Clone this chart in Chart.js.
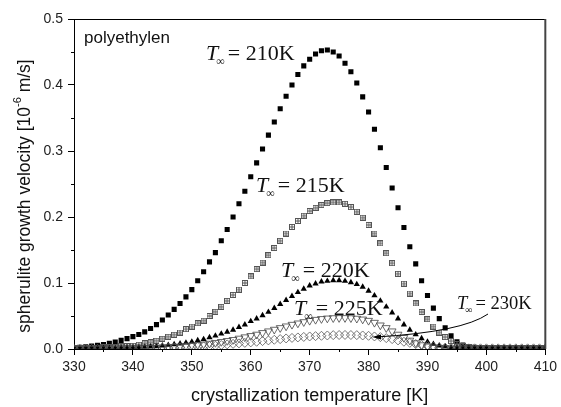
<!DOCTYPE html>
<html>
<head>
<meta charset="utf-8">
<script src="https://cdn.jsdelivr.net/npm/chart.js@4.4.1/dist/chart.umd.min.js"></script>
<style>
  html, body { margin: 0; padding: 0; background: #fff; }
  #wrap { width: 561px; height: 407px; }
</style>
</head>
<body>
<div id="wrap"><canvas id="growthChart" width="561" height="407"></canvas></div>
<script>
// crystallization temperature [K]
const temps = [330, 331, 332, 333, 334, 335, 336, 337, 338, 339,
  340, 341, 342, 343, 344, 345, 346, 347, 348, 349,
  350, 351, 352, 353, 354, 355, 356, 357, 358, 359,
  360, 361, 362, 363, 364, 365, 366, 367, 368, 369,
  370, 371, 372, 373, 374, 375, 376, 377, 378, 379,
  380, 381, 382, 383, 384, 385, 386, 387, 388, 389,
  390, 391, 392, 393, 394, 395, 396, 397, 398, 399,
  400, 401, 402, 403, 404, 405, 406, 407, 408, 409, 410];

// spherulite growth velocity [1e-6 m/s], one list per T_inf
const v210 = [0.002, 0.0025, 0.0035, 0.0045, 0.0056, 0.0068, 0.0086, 0.0106, 0.013, 0.0157,
  0.0187, 0.022, 0.026, 0.031, 0.037, 0.044, 0.0515, 0.060, 0.069, 0.079,
  0.090, 0.1035, 0.117, 0.132, 0.146, 0.164, 0.181, 0.200, 0.220, 0.239,
  0.261, 0.282, 0.303, 0.324, 0.344, 0.364, 0.383, 0.400, 0.416, 0.429,
  0.439, 0.447, 0.452, 0.453, 0.450, 0.444, 0.433, 0.420, 0.403, 0.382,
  0.359, 0.333, 0.305, 0.275, 0.244, 0.214, 0.184, 0.155, 0.129, 0.1035,
  0.081, 0.062, 0.046, 0.032, 0.020, 0.011, 0.006, 0.0035, 0.0025, 0.002,
  0.0015, 0.001, 0.001, 0.001, 0.001, 0.001, 0.001, 0.001, 0.001, 0.001, 0.001];

const v215 = [0.001, 0.0012, 0.0014, 0.0017, 0.002, 0.0024, 0.0028, 0.0033, 0.0038, 0.0044,
  0.005, 0.0066, 0.0086, 0.010, 0.0126, 0.0157, 0.0187, 0.0217, 0.025, 0.030,
  0.034, 0.039, 0.043, 0.050, 0.0565, 0.064, 0.073, 0.082, 0.090, 0.100,
  0.110, 0.121, 0.131, 0.142, 0.153, 0.164, 0.175, 0.185, 0.194, 0.202,
  0.209, 0.214, 0.218, 0.221, 0.222, 0.222, 0.220, 0.215, 0.208, 0.199,
  0.188, 0.175, 0.160, 0.145, 0.130, 0.114, 0.099, 0.084, 0.069, 0.056,
  0.045, 0.034, 0.025, 0.018, 0.012, 0.0076, 0.0045, 0.003, 0.002, 0.0015,
  0.001, 0.001, 0.001, 0.001, 0.001, 0.001, 0.001, 0.001, 0.001, 0.001, 0.001];

const v220 = [0.0005, 0.0006, 0.0007, 0.0008, 0.0009, 0.001, 0.0012, 0.0014, 0.0016, 0.0018,
  0.002, 0.0025, 0.003, 0.0035, 0.004, 0.005, 0.006, 0.007, 0.008, 0.0095,
  0.011, 0.013, 0.0147, 0.0175, 0.020, 0.023, 0.026, 0.029, 0.033, 0.037,
  0.042, 0.046, 0.051, 0.056, 0.062, 0.068, 0.074, 0.080, 0.086, 0.091,
  0.096, 0.099, 0.102, 0.103, 0.104, 0.104, 0.103, 0.101, 0.098, 0.094,
  0.088, 0.081, 0.073, 0.064, 0.055, 0.046, 0.037, 0.029, 0.022, 0.016,
  0.011, 0.0075, 0.005, 0.0035, 0.0025, 0.002, 0.0015, 0.001, 0.001, 0.001,
  0.001, 0.001, 0.001, 0.001, 0.001, 0.001, 0.001, 0.001, 0.001, 0.001, 0.001];

const v225 = [0.0003, 0.0004, 0.0005, 0.0006, 0.0007, 0.0008, 0.0009, 0.001, 0.001, 0.0011,
  0.0012, 0.0014, 0.0016, 0.0019, 0.0022, 0.0026, 0.003, 0.0035, 0.004, 0.0047,
  0.0055, 0.0063, 0.0072, 0.0083, 0.0095, 0.011, 0.0125, 0.014, 0.016, 0.018,
  0.020, 0.022, 0.0245, 0.027, 0.0295, 0.032, 0.0345, 0.037, 0.039, 0.041,
  0.043, 0.0445, 0.0457, 0.0465, 0.047, 0.0472, 0.0472, 0.047, 0.0462, 0.045,
  0.043, 0.040, 0.036, 0.032, 0.027, 0.022, 0.017, 0.013, 0.009, 0.006,
  0.004, 0.0028, 0.002, 0.0015, 0.001, 0.001, 0.001, 0.001, 0.001, 0.001,
  0.001, 0.001, 0.001, 0.001, 0.001, 0.001, 0.001, 0.001, 0.001, 0.001, 0.001];

const v230 = [0.0002, 0.0002, 0.0003, 0.0003, 0.0004, 0.0005, 0.0006, 0.0007, 0.0008, 0.0009,
  0.001, 0.0011, 0.0012, 0.0014, 0.0016, 0.0018, 0.002, 0.0022, 0.0025, 0.0027,
  0.003, 0.0035, 0.004, 0.0045, 0.005, 0.006, 0.007, 0.0078, 0.0085, 0.0093,
  0.010, 0.011, 0.012, 0.013, 0.014, 0.015, 0.016, 0.0168, 0.0175, 0.0183,
  0.019, 0.0195, 0.020, 0.0205, 0.021, 0.0212, 0.0213, 0.0212, 0.021, 0.0205,
  0.020, 0.019, 0.018, 0.0165, 0.015, 0.013, 0.011, 0.0093, 0.0075, 0.006,
  0.0045, 0.0035, 0.0025, 0.002, 0.0015, 0.0012, 0.001, 0.001, 0.001, 0.001,
  0.001, 0.001, 0.001, 0.001, 0.001, 0.001, 0.001, 0.001, 0.001, 0.001, 0.001];

const yTicks = [0.0, 0.1, 0.2, 0.3, 0.4, 0.5];
const xTicks = [330, 340, 350, 360, 370, 380, 390, 400, 410];

function pairs(vals) {
  return temps.map((t, i) => ({ x: t, y: vals[i] }));
}

// little square with a plus inside, for the 215 K points
function boxPlus() {
  const c = document.createElement('canvas');
  c.width = 6; c.height = 6;
  const g = c.getContext('2d');
  g.strokeStyle = '#555';
  g.lineWidth = 1;
  g.strokeRect(0.5, 0.5, 5, 5);
  g.beginPath();
  g.moveTo(3, 0.5); g.lineTo(3, 5.5);
  g.moveTo(0.5, 3); g.lineTo(5.5, 3);
  g.stroke();
  return c;
}

const sans = '"Liberation Sans", Arial, sans-serif';
const serif = '"Liberation Serif", "Times New Roman", serif';

// T∞ = ...K labels, minor ticks, frame and the arrow
const extras = {
  id: 'extras',
  afterDraw(chart) {
    const ctx = chart.ctx;
    const a = chart.chartArea;
    const xs = chart.scales.x, ys = chart.scales.y;
    ctx.save();

    // frame
    ctx.strokeStyle = '#000';
    ctx.lineWidth = 1;
    ctx.beginPath();
    ctx.moveTo(a.left, a.top + 0.5); ctx.lineTo(a.right, a.top + 0.5);
    ctx.stroke();
    ctx.strokeStyle = '#444';
    ctx.lineWidth = 2;
    ctx.beginPath();
    ctx.moveTo(a.right, a.top); ctx.lineTo(a.right, a.bottom);
    ctx.stroke();

    // minor ticks
    ctx.strokeStyle = '#000';
    ctx.lineWidth = 1;
    ctx.beginPath();
    for (let t = 335; t < 410; t += 10) {
      const px = Math.round(xs.getPixelForValue(t)) + 0.5;
      ctx.moveTo(px, a.bottom); ctx.lineTo(px, a.bottom + 3);
    }
    for (let v = 0.05; v < 0.5; v += 0.1) {
      const py = Math.round(ys.getPixelForValue(v)) + 0.5;
      ctx.moveTo(a.left, py); ctx.lineTo(a.left - 3, py);
    }
    ctx.stroke();

    // y title with superscript
    const t1 = 'spherulite growth velocity [10', sup = '-6', t2 = ' m/s]';
    ctx.fillStyle = '#111';
    ctx.translate(25, 196);
    ctx.rotate(-Math.PI / 2);
    ctx.font = '17.5px ' + sans;
    const w1 = ctx.measureText(t1).width, w3 = ctx.measureText(t2).width;
    ctx.font = '11px ' + sans;
    const w2 = ctx.measureText(sup).width;
    let x0 = -(w1 + w2 + w3) / 2;
    ctx.textBaseline = 'middle';
    ctx.font = '17.5px ' + sans;
    ctx.fillText(t1, x0, 0);
    ctx.font = '11px ' + sans;
    ctx.fillText(sup, x0 + w1, -7);
    ctx.font = '17.5px ' + sans;
    ctx.fillText(t2, x0 + w1 + w2, 0);
    ctx.setTransform(1, 0, 0, 1, 0, 0);

    // panel label
    ctx.textBaseline = 'alphabetic';
    ctx.font = '17px ' + sans;
    ctx.fillText('polyethylen', 84, 43);

    // T∞ labels
    function tLabel(x, y, txt, size) {
      ctx.font = 'italic ' + size + 'px ' + serif;
      ctx.fillText('T', x, y);
      let wx = x + ctx.measureText('T').width;
      ctx.font = Math.round(size * 0.55) + 'px ' + serif;
      ctx.fillText('\u221e', wx - 2, y + size * 0.22);
      wx += ctx.measureText('\u221e').width + 1;
      ctx.font = size + 'px ' + serif;
      ctx.fillText('= ' + txt, wx, y);
    }
    tLabel(206, 60, '210K', 22);
    tLabel(256, 192, '215K', 22);
    tLabel(281, 277, '220K', 22);
    tLabel(294, 315, '225K', 22);
    tLabel(457, 309, '230K', 18.5);

    // arrow to the 230 K points
    ctx.strokeStyle = '#000';
    ctx.lineWidth = 1;
    ctx.beginPath();
    ctx.moveTo(488, 314);
    ctx.quadraticCurveTo(462, 332, 376, 337);
    ctx.stroke();
    ctx.fillStyle = '#000';
    ctx.beginPath();
    ctx.moveTo(372, 337);
    ctx.lineTo(381, 334.5);
    ctx.lineTo(381, 339.5);
    ctx.closePath();
    ctx.fill();

    ctx.restore();
  }
};

const tickFont = { family: sans, size: 14 };

new Chart(document.getElementById('growthChart').getContext('2d'), {
  type: 'scatter',
  data: {
    datasets: [
      {
        label: '230K', data: pairs(v230), pointStyle: 'rectRot', pointRadius: 4.5,
        borderColor: '#555', backgroundColor: 'rgba(0,0,0,0)', pointBorderWidth: 0.8
      },
      {
        label: '225K', data: pairs(v225), pointStyle: 'triangle', rotation: 180, pointRadius: 4.5,
        borderColor: '#444', backgroundColor: 'rgba(0,0,0,0)', pointBorderWidth: 0.8
      },
      {
        label: '220K', data: pairs(v220), pointStyle: 'triangle', pointRadius: 3.6,
        borderColor: '#000', backgroundColor: '#000', pointBorderWidth: 0
      },
      {
        label: '215K', data: pairs(v215), pointStyle: boxPlus(),
        borderColor: '#555', backgroundColor: '#555'
      },
      {
        label: '210K', data: pairs(v210), pointStyle: 'rect', pointRadius: 3.6,
        borderColor: '#000', backgroundColor: '#000', pointBorderWidth: 0
      }
    ]
  },
  options: {
    responsive: false,
    animation: false,
    layout: { padding: { left: 0, top: 19, right: 15, bottom: 0 } },
    plugins: { legend: { display: false }, tooltip: { enabled: false } },
    scales: {
      x: {
        type: 'linear', min: 330, max: 410,
        afterBuildTicks: s => { s.ticks = xTicks.map(v => ({ value: v })); },
        afterFit: s => { s.height = 58; },
        border: { color: '#000', width: 1 },
        grid: { drawOnChartArea: false, tickLength: 6, color: '#000' },
        ticks: { font: tickFont, color: '#222', padding: 4, maxRotation: 0 },
        title: {
          display: true, text: 'crystallization temperature [K]', color: '#111',
          font: { family: sans, size: 18 },
          padding: { top: 3, bottom: 0 }
        }
      },
      y: {
        type: 'linear', min: 0, max: 0.5,
        afterBuildTicks: s => { s.ticks = yTicks.map(v => ({ value: v })); },
        afterFit: s => { s.width = 74; },
        border: { color: '#000', width: 1 },
        grid: { drawOnChartArea: false, tickLength: 6, color: '#000' },
        ticks: { font: tickFont, color: '#222', padding: 5, callback: v => v.toFixed(1) }
      }
    }
  },
  plugins: [extras]
});
</script>
</body>
</html>
